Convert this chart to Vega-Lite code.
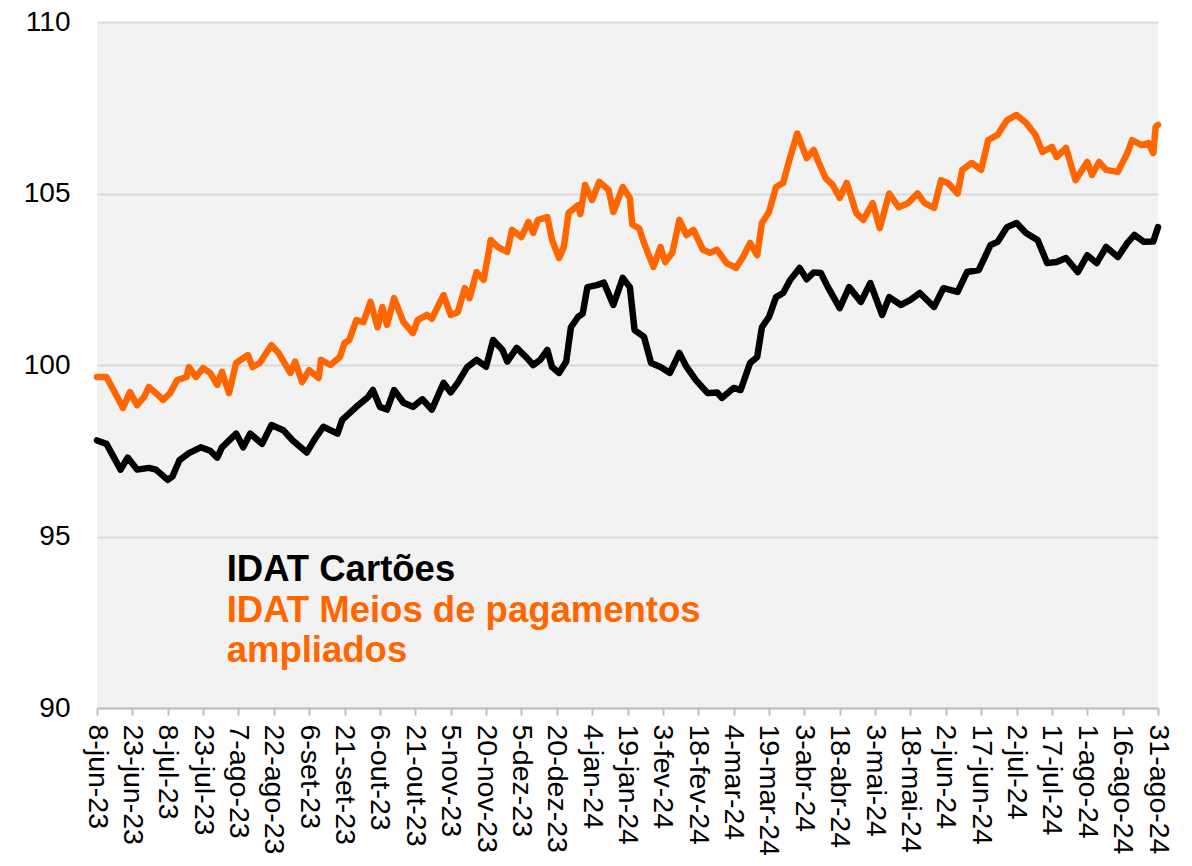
{
"$schema": "https://vega.github.io/schema/vega-lite/v6.json",
"width": 1061, "height": 686,
"autosize": {"type": "none"},
"padding": {"left": 97, "top": 22, "right": 34, "bottom": 158},
"background": "white",
"config": {"view": {"fill": "#f2f2f2", "stroke": null}, "font": "Liberation Sans",
  "axisX": {"labelOverlap": false, "labelFlush": false, "labelBound": false, "labelAngle": 90, "labelFontSize": 28.5, "labelColor": "#000000", "labelFont": "Liberation Sans", "tickColor": "#bfbfbf", "tickSize": 7, "tickWidth": 2, "domainColor": "#bfbfbf", "domainWidth": 2, "grid": false, "labelPadding": 9, "title": null},
  "axisY": {"labelOverlap": false, "labelFontSize": 28, "labelColor": "#000000", "labelFont": "Liberation Sans", "ticks": false, "domain": false, "labelPadding": 27, "gridColor": "#d9d9d9", "gridWidth": 2, "title": null}},
"datasets": {"idat": [
{"date":"2023-06-08","series":"IDAT Cartões","value":97.8},
{"date":"2023-06-12","series":"IDAT Cartões","value":97.7},
{"date":"2023-06-18","series":"IDAT Cartões","value":96.95},
{"date":"2023-06-21","series":"IDAT Cartões","value":97.3},
{"date":"2023-06-25","series":"IDAT Cartões","value":96.95},
{"date":"2023-06-30","series":"IDAT Cartões","value":97.0},
{"date":"2023-07-03","series":"IDAT Cartões","value":96.95},
{"date":"2023-07-08","series":"IDAT Cartões","value":96.65},
{"date":"2023-07-10","series":"IDAT Cartões","value":96.75},
{"date":"2023-07-13","series":"IDAT Cartões","value":97.23},
{"date":"2023-07-17","series":"IDAT Cartões","value":97.43},
{"date":"2023-07-22","series":"IDAT Cartões","value":97.6},
{"date":"2023-07-26","series":"IDAT Cartões","value":97.5},
{"date":"2023-07-29","series":"IDAT Cartões","value":97.3},
{"date":"2023-07-31","series":"IDAT Cartões","value":97.6},
{"date":"2023-08-06","series":"IDAT Cartões","value":98.0},
{"date":"2023-08-09","series":"IDAT Cartões","value":97.6},
{"date":"2023-08-12","series":"IDAT Cartões","value":98.0},
{"date":"2023-08-17","series":"IDAT Cartões","value":97.7},
{"date":"2023-08-21","series":"IDAT Cartões","value":98.25},
{"date":"2023-08-26","series":"IDAT Cartões","value":98.1},
{"date":"2023-08-30","series":"IDAT Cartões","value":97.8},
{"date":"2023-09-05","series":"IDAT Cartões","value":97.45},
{"date":"2023-09-08","series":"IDAT Cartões","value":97.8},
{"date":"2023-09-12","series":"IDAT Cartões","value":98.2},
{"date":"2023-09-18","series":"IDAT Cartões","value":98.0},
{"date":"2023-09-20","series":"IDAT Cartões","value":98.4},
{"date":"2023-09-26","series":"IDAT Cartões","value":98.78},
{"date":"2023-10-01","series":"IDAT Cartões","value":99.07},
{"date":"2023-10-03","series":"IDAT Cartões","value":99.27},
{"date":"2023-10-06","series":"IDAT Cartões","value":98.78},
{"date":"2023-10-09","series":"IDAT Cartões","value":98.7},
{"date":"2023-10-12","series":"IDAT Cartões","value":99.27},
{"date":"2023-10-16","series":"IDAT Cartões","value":98.9},
{"date":"2023-10-20","series":"IDAT Cartões","value":98.78},
{"date":"2023-10-24","series":"IDAT Cartões","value":99.0},
{"date":"2023-10-28","series":"IDAT Cartões","value":98.7},
{"date":"2023-11-02","series":"IDAT Cartões","value":99.48},
{"date":"2023-11-05","series":"IDAT Cartões","value":99.2},
{"date":"2023-11-08","series":"IDAT Cartões","value":99.48},
{"date":"2023-11-12","series":"IDAT Cartões","value":99.94},
{"date":"2023-11-16","series":"IDAT Cartões","value":100.15},
{"date":"2023-11-20","series":"IDAT Cartões","value":99.95},
{"date":"2023-11-23","series":"IDAT Cartões","value":100.73},
{"date":"2023-11-27","series":"IDAT Cartões","value":100.44},
{"date":"2023-11-29","series":"IDAT Cartões","value":100.1},
{"date":"2023-12-03","series":"IDAT Cartões","value":100.5},
{"date":"2023-12-07","series":"IDAT Cartões","value":100.23},
{"date":"2023-12-10","series":"IDAT Cartões","value":100.0},
{"date":"2023-12-13","series":"IDAT Cartões","value":100.15},
{"date":"2023-12-16","series":"IDAT Cartões","value":100.44},
{"date":"2023-12-18","series":"IDAT Cartões","value":99.94},
{"date":"2023-12-21","series":"IDAT Cartões","value":99.77},
{"date":"2023-12-24","series":"IDAT Cartões","value":100.1},
{"date":"2023-12-26","series":"IDAT Cartões","value":101.1},
{"date":"2023-12-29","series":"IDAT Cartões","value":101.4},
{"date":"2023-12-31","series":"IDAT Cartões","value":101.5},
{"date":"2024-01-02","series":"IDAT Cartões","value":102.27},
{"date":"2024-01-06","series":"IDAT Cartões","value":102.33},
{"date":"2024-01-09","series":"IDAT Cartões","value":102.4},
{"date":"2024-01-13","series":"IDAT Cartões","value":101.75},
{"date":"2024-01-17","series":"IDAT Cartões","value":102.54},
{"date":"2024-01-20","series":"IDAT Cartões","value":102.27},
{"date":"2024-01-22","series":"IDAT Cartões","value":101.02},
{"date":"2024-01-26","series":"IDAT Cartões","value":100.82},
{"date":"2024-01-29","series":"IDAT Cartões","value":100.06},
{"date":"2024-02-02","series":"IDAT Cartões","value":99.94},
{"date":"2024-02-06","series":"IDAT Cartões","value":99.77},
{"date":"2024-02-10","series":"IDAT Cartões","value":100.35},
{"date":"2024-02-13","series":"IDAT Cartões","value":99.95},
{"date":"2024-02-17","series":"IDAT Cartões","value":99.56},
{"date":"2024-02-22","series":"IDAT Cartões","value":99.18},
{"date":"2024-02-26","series":"IDAT Cartões","value":99.2},
{"date":"2024-02-28","series":"IDAT Cartões","value":99.04},
{"date":"2024-03-04","series":"IDAT Cartões","value":99.33},
{"date":"2024-03-07","series":"IDAT Cartões","value":99.27},
{"date":"2024-03-11","series":"IDAT Cartões","value":100.06},
{"date":"2024-03-14","series":"IDAT Cartões","value":100.23},
{"date":"2024-03-16","series":"IDAT Cartões","value":101.1},
{"date":"2024-03-19","series":"IDAT Cartões","value":101.4},
{"date":"2024-03-22","series":"IDAT Cartões","value":101.98},
{"date":"2024-03-25","series":"IDAT Cartões","value":102.1},
{"date":"2024-03-28","series":"IDAT Cartões","value":102.48},
{"date":"2024-04-01","series":"IDAT Cartões","value":102.83},
{"date":"2024-04-04","series":"IDAT Cartões","value":102.5},
{"date":"2024-04-07","series":"IDAT Cartões","value":102.7},
{"date":"2024-04-10","series":"IDAT Cartões","value":102.68},
{"date":"2024-04-13","series":"IDAT Cartões","value":102.27},
{"date":"2024-04-18","series":"IDAT Cartões","value":101.66},
{"date":"2024-04-22","series":"IDAT Cartões","value":102.27},
{"date":"2024-04-27","series":"IDAT Cartões","value":101.84},
{"date":"2024-05-01","series":"IDAT Cartões","value":102.39},
{"date":"2024-05-06","series":"IDAT Cartões","value":101.46},
{"date":"2024-05-09","series":"IDAT Cartões","value":101.98},
{"date":"2024-05-14","series":"IDAT Cartões","value":101.75},
{"date":"2024-05-18","series":"IDAT Cartões","value":101.9},
{"date":"2024-05-22","series":"IDAT Cartões","value":102.1},
{"date":"2024-05-28","series":"IDAT Cartões","value":101.69},
{"date":"2024-06-01","series":"IDAT Cartões","value":102.24},
{"date":"2024-06-07","series":"IDAT Cartões","value":102.13},
{"date":"2024-06-11","series":"IDAT Cartões","value":102.71},
{"date":"2024-06-16","series":"IDAT Cartões","value":102.77},
{"date":"2024-06-21","series":"IDAT Cartões","value":103.5},
{"date":"2024-06-24","series":"IDAT Cartões","value":103.59},
{"date":"2024-06-28","series":"IDAT Cartões","value":104.02},
{"date":"2024-07-02","series":"IDAT Cartões","value":104.14},
{"date":"2024-07-06","series":"IDAT Cartões","value":103.85},
{"date":"2024-07-11","series":"IDAT Cartões","value":103.64},
{"date":"2024-07-15","series":"IDAT Cartões","value":102.97},
{"date":"2024-07-19","series":"IDAT Cartões","value":103.0},
{"date":"2024-07-23","series":"IDAT Cartões","value":103.12},
{"date":"2024-07-28","series":"IDAT Cartões","value":102.71},
{"date":"2024-08-01","series":"IDAT Cartões","value":103.2},
{"date":"2024-08-05","series":"IDAT Cartões","value":102.97},
{"date":"2024-08-09","series":"IDAT Cartões","value":103.44},
{"date":"2024-08-14","series":"IDAT Cartões","value":103.15},
{"date":"2024-08-18","series":"IDAT Cartões","value":103.56},
{"date":"2024-08-21","series":"IDAT Cartões","value":103.79},
{"date":"2024-08-25","series":"IDAT Cartões","value":103.59},
{"date":"2024-08-29","series":"IDAT Cartões","value":103.6},
{"date":"2024-08-31","series":"IDAT Cartões","value":104.02},
{"date":"2023-06-08","series":"IDAT Meios de pagamentos ampliados","value":99.65},
{"date":"2023-06-12","series":"IDAT Meios de pagamentos ampliados","value":99.65},
{"date":"2023-06-15","series":"IDAT Meios de pagamentos ampliados","value":99.27},
{"date":"2023-06-19","series":"IDAT Meios de pagamentos ampliados","value":98.75},
{"date":"2023-06-22","series":"IDAT Meios de pagamentos ampliados","value":99.21},
{"date":"2023-06-25","series":"IDAT Meios de pagamentos ampliados","value":98.83},
{"date":"2023-06-28","series":"IDAT Meios de pagamentos ampliados","value":99.07},
{"date":"2023-06-30","series":"IDAT Meios de pagamentos ampliados","value":99.36},
{"date":"2023-07-03","series":"IDAT Meios de pagamentos ampliados","value":99.18},
{"date":"2023-07-06","series":"IDAT Meios de pagamentos ampliados","value":98.98},
{"date":"2023-07-09","series":"IDAT Meios de pagamentos ampliados","value":99.18},
{"date":"2023-07-12","series":"IDAT Meios de pagamentos ampliados","value":99.56},
{"date":"2023-07-16","series":"IDAT Meios de pagamentos ampliados","value":99.65},
{"date":"2023-07-17","series":"IDAT Meios de pagamentos ampliados","value":99.94},
{"date":"2023-07-20","series":"IDAT Meios de pagamentos ampliados","value":99.65},
{"date":"2023-07-23","series":"IDAT Meios de pagamentos ampliados","value":99.91},
{"date":"2023-07-26","series":"IDAT Meios de pagamentos ampliados","value":99.77},
{"date":"2023-07-29","series":"IDAT Meios de pagamentos ampliados","value":99.42},
{"date":"2023-07-31","series":"IDAT Meios de pagamentos ampliados","value":99.8},
{"date":"2023-08-03","series":"IDAT Meios de pagamentos ampliados","value":99.18},
{"date":"2023-08-06","series":"IDAT Meios de pagamentos ampliados","value":100.06},
{"date":"2023-08-11","series":"IDAT Meios de pagamentos ampliados","value":100.29},
{"date":"2023-08-13","series":"IDAT Meios de pagamentos ampliados","value":99.94},
{"date":"2023-08-16","series":"IDAT Meios de pagamentos ampliados","value":100.06},
{"date":"2023-08-21","series":"IDAT Meios de pagamentos ampliados","value":100.58},
{"date":"2023-08-24","series":"IDAT Meios de pagamentos ampliados","value":100.35},
{"date":"2023-08-29","series":"IDAT Meios de pagamentos ampliados","value":99.77},
{"date":"2023-08-31","series":"IDAT Meios de pagamentos ampliados","value":100.1},
{"date":"2023-09-03","series":"IDAT Meios de pagamentos ampliados","value":99.5},
{"date":"2023-09-06","series":"IDAT Meios de pagamentos ampliados","value":99.85},
{"date":"2023-09-10","series":"IDAT Meios de pagamentos ampliados","value":99.62},
{"date":"2023-09-11","series":"IDAT Meios de pagamentos ampliados","value":100.15},
{"date":"2023-09-15","series":"IDAT Meios de pagamentos ampliados","value":100.0},
{"date":"2023-09-19","series":"IDAT Meios de pagamentos ampliados","value":100.23},
{"date":"2023-09-21","series":"IDAT Meios de pagamentos ampliados","value":100.64},
{"date":"2023-09-23","series":"IDAT Meios de pagamentos ampliados","value":100.73},
{"date":"2023-09-26","series":"IDAT Meios de pagamentos ampliados","value":101.31},
{"date":"2023-09-29","series":"IDAT Meios de pagamentos ampliados","value":101.25},
{"date":"2023-10-02","series":"IDAT Meios de pagamentos ampliados","value":101.84},
{"date":"2023-10-05","series":"IDAT Meios de pagamentos ampliados","value":101.1},
{"date":"2023-10-07","series":"IDAT Meios de pagamentos ampliados","value":101.69},
{"date":"2023-10-09","series":"IDAT Meios de pagamentos ampliados","value":101.17},
{"date":"2023-10-12","series":"IDAT Meios de pagamentos ampliados","value":101.95},
{"date":"2023-10-16","series":"IDAT Meios de pagamentos ampliados","value":101.25},
{"date":"2023-10-20","series":"IDAT Meios de pagamentos ampliados","value":100.93},
{"date":"2023-10-22","series":"IDAT Meios de pagamentos ampliados","value":101.31},
{"date":"2023-10-26","series":"IDAT Meios de pagamentos ampliados","value":101.46},
{"date":"2023-10-28","series":"IDAT Meios de pagamentos ampliados","value":101.35},
{"date":"2023-11-02","series":"IDAT Meios de pagamentos ampliados","value":102.04},
{"date":"2023-11-05","series":"IDAT Meios de pagamentos ampliados","value":101.46},
{"date":"2023-11-08","series":"IDAT Meios de pagamentos ampliados","value":101.54},
{"date":"2023-11-11","series":"IDAT Meios de pagamentos ampliados","value":102.24},
{"date":"2023-11-13","series":"IDAT Meios de pagamentos ampliados","value":101.95},
{"date":"2023-11-16","series":"IDAT Meios de pagamentos ampliados","value":102.71},
{"date":"2023-11-19","series":"IDAT Meios de pagamentos ampliados","value":102.48},
{"date":"2023-11-22","series":"IDAT Meios de pagamentos ampliados","value":103.64},
{"date":"2023-11-25","series":"IDAT Meios de pagamentos ampliados","value":103.44},
{"date":"2023-11-29","series":"IDAT Meios de pagamentos ampliados","value":103.3},
{"date":"2023-12-01","series":"IDAT Meios de pagamentos ampliados","value":103.94},
{"date":"2023-12-05","series":"IDAT Meios de pagamentos ampliados","value":103.73},
{"date":"2023-12-08","series":"IDAT Meios de pagamentos ampliados","value":104.17},
{"date":"2023-12-10","series":"IDAT Meios de pagamentos ampliados","value":103.85},
{"date":"2023-12-12","series":"IDAT Meios de pagamentos ampliados","value":104.23},
{"date":"2023-12-16","series":"IDAT Meios de pagamentos ampliados","value":104.31},
{"date":"2023-12-18","series":"IDAT Meios de pagamentos ampliados","value":103.64},
{"date":"2023-12-21","series":"IDAT Meios de pagamentos ampliados","value":103.12},
{"date":"2023-12-23","series":"IDAT Meios de pagamentos ampliados","value":103.44},
{"date":"2023-12-25","series":"IDAT Meios de pagamentos ampliados","value":104.43},
{"date":"2023-12-29","series":"IDAT Meios de pagamentos ampliados","value":104.66},
{"date":"2023-12-30","series":"IDAT Meios de pagamentos ampliados","value":104.4},
{"date":"2024-01-01","series":"IDAT Meios de pagamentos ampliados","value":105.25},
{"date":"2024-01-04","series":"IDAT Meios de pagamentos ampliados","value":104.81},
{"date":"2024-01-07","series":"IDAT Meios de pagamentos ampliados","value":105.34},
{"date":"2024-01-11","series":"IDAT Meios de pagamentos ampliados","value":105.1},
{"date":"2024-01-13","series":"IDAT Meios de pagamentos ampliados","value":104.46},
{"date":"2024-01-17","series":"IDAT Meios de pagamentos ampliados","value":105.19},
{"date":"2024-01-20","series":"IDAT Meios de pagamentos ampliados","value":104.87},
{"date":"2024-01-21","series":"IDAT Meios de pagamentos ampliados","value":104.1},
{"date":"2024-01-24","series":"IDAT Meios de pagamentos ampliados","value":103.98},
{"date":"2024-01-26","series":"IDAT Meios de pagamentos ampliados","value":103.56},
{"date":"2024-01-30","series":"IDAT Meios de pagamentos ampliados","value":102.86},
{"date":"2024-02-02","series":"IDAT Meios de pagamentos ampliados","value":103.44},
{"date":"2024-02-04","series":"IDAT Meios de pagamentos ampliados","value":103.0},
{"date":"2024-02-07","series":"IDAT Meios de pagamentos ampliados","value":103.27},
{"date":"2024-02-10","series":"IDAT Meios de pagamentos ampliados","value":104.23},
{"date":"2024-02-13","series":"IDAT Meios de pagamentos ampliados","value":103.79},
{"date":"2024-02-16","series":"IDAT Meios de pagamentos ampliados","value":103.94},
{"date":"2024-02-20","series":"IDAT Meios de pagamentos ampliados","value":103.36},
{"date":"2024-02-23","series":"IDAT Meios de pagamentos ampliados","value":103.27},
{"date":"2024-02-26","series":"IDAT Meios de pagamentos ampliados","value":103.36},
{"date":"2024-03-01","series":"IDAT Meios de pagamentos ampliados","value":102.97},
{"date":"2024-03-05","series":"IDAT Meios de pagamentos ampliados","value":102.83},
{"date":"2024-03-08","series":"IDAT Meios de pagamentos ampliados","value":103.15},
{"date":"2024-03-11","series":"IDAT Meios de pagamentos ampliados","value":103.56},
{"date":"2024-03-14","series":"IDAT Meios de pagamentos ampliados","value":103.2},
{"date":"2024-03-16","series":"IDAT Meios de pagamentos ampliados","value":104.14},
{"date":"2024-03-19","series":"IDAT Meios de pagamentos ampliados","value":104.46},
{"date":"2024-03-22","series":"IDAT Meios de pagamentos ampliados","value":105.19},
{"date":"2024-03-25","series":"IDAT Meios de pagamentos ampliados","value":105.31},
{"date":"2024-03-28","series":"IDAT Meios de pagamentos ampliados","value":106.06},
{"date":"2024-03-31","series":"IDAT Meios de pagamentos ampliados","value":106.75},
{"date":"2024-04-04","series":"IDAT Meios de pagamentos ampliados","value":106.03},
{"date":"2024-04-07","series":"IDAT Meios de pagamentos ampliados","value":106.27},
{"date":"2024-04-09","series":"IDAT Meios de pagamentos ampliados","value":105.92},
{"date":"2024-04-12","series":"IDAT Meios de pagamentos ampliados","value":105.45},
{"date":"2024-04-15","series":"IDAT Meios de pagamentos ampliados","value":105.25},
{"date":"2024-04-18","series":"IDAT Meios de pagamentos ampliados","value":104.87},
{"date":"2024-04-21","series":"IDAT Meios de pagamentos ampliados","value":105.31},
{"date":"2024-04-25","series":"IDAT Meios de pagamentos ampliados","value":104.43},
{"date":"2024-04-28","series":"IDAT Meios de pagamentos ampliados","value":104.23},
{"date":"2024-05-02","series":"IDAT Meios de pagamentos ampliados","value":104.72},
{"date":"2024-05-05","series":"IDAT Meios de pagamentos ampliados","value":103.99},
{"date":"2024-05-09","series":"IDAT Meios de pagamentos ampliados","value":105.0},
{"date":"2024-05-13","series":"IDAT Meios de pagamentos ampliados","value":104.6},
{"date":"2024-05-17","series":"IDAT Meios de pagamentos ampliados","value":104.72},
{"date":"2024-05-21","series":"IDAT Meios de pagamentos ampliados","value":105.0},
{"date":"2024-05-24","series":"IDAT Meios de pagamentos ampliados","value":104.72},
{"date":"2024-05-28","series":"IDAT Meios de pagamentos ampliados","value":104.58},
{"date":"2024-05-31","series":"IDAT Meios de pagamentos ampliados","value":105.39},
{"date":"2024-06-03","series":"IDAT Meios de pagamentos ampliados","value":105.3},
{"date":"2024-06-07","series":"IDAT Meios de pagamentos ampliados","value":105.0},
{"date":"2024-06-09","series":"IDAT Meios de pagamentos ampliados","value":105.69},
{"date":"2024-06-13","series":"IDAT Meios de pagamentos ampliados","value":105.89},
{"date":"2024-06-17","series":"IDAT Meios de pagamentos ampliados","value":105.69},
{"date":"2024-06-20","series":"IDAT Meios de pagamentos ampliados","value":106.56},
{"date":"2024-06-24","series":"IDAT Meios de pagamentos ampliados","value":106.71},
{"date":"2024-06-28","series":"IDAT Meios de pagamentos ampliados","value":107.14},
{"date":"2024-07-02","series":"IDAT Meios de pagamentos ampliados","value":107.29},
{"date":"2024-07-06","series":"IDAT Meios de pagamentos ampliados","value":107.06},
{"date":"2024-07-10","series":"IDAT Meios de pagamentos ampliados","value":106.71},
{"date":"2024-07-13","series":"IDAT Meios de pagamentos ampliados","value":106.21},
{"date":"2024-07-17","series":"IDAT Meios de pagamentos ampliados","value":106.36},
{"date":"2024-07-19","series":"IDAT Meios de pagamentos ampliados","value":106.06},
{"date":"2024-07-23","series":"IDAT Meios de pagamentos ampliados","value":106.33},
{"date":"2024-07-27","series":"IDAT Meios de pagamentos ampliados","value":105.39},
{"date":"2024-08-01","series":"IDAT Meios de pagamentos ampliados","value":105.92},
{"date":"2024-08-03","series":"IDAT Meios de pagamentos ampliados","value":105.54},
{"date":"2024-08-06","series":"IDAT Meios de pagamentos ampliados","value":105.92},
{"date":"2024-08-09","series":"IDAT Meios de pagamentos ampliados","value":105.69},
{"date":"2024-08-14","series":"IDAT Meios de pagamentos ampliados","value":105.63},
{"date":"2024-08-18","series":"IDAT Meios de pagamentos ampliados","value":106.18},
{"date":"2024-08-20","series":"IDAT Meios de pagamentos ampliados","value":106.56},
{"date":"2024-08-24","series":"IDAT Meios de pagamentos ampliados","value":106.41},
{"date":"2024-08-27","series":"IDAT Meios de pagamentos ampliados","value":106.47},
{"date":"2024-08-29","series":"IDAT Meios de pagamentos ampliados","value":106.18},
{"date":"2024-08-30","series":"IDAT Meios de pagamentos ampliados","value":106.94},
{"date":"2024-08-31","series":"IDAT Meios de pagamentos ampliados","value":107.0}
],
"labels": [{"series": "IDAT Cartões"}]},
"layer": [
{
"data": {"name": "idat"},
"mark": {"type": "line", "strokeWidth": 6.5, "strokeJoin": "round", "strokeCap": "round"},
"encoding": {
  "x": {"field": "date", "type": "temporal",
    "scale": {"type": "utc", "nice": false, "domain": [{"year":2023,"month":6,"date":8,"utc":true},{"year":2024,"month":8,"date":31,"utc":true}]},
    "axis": {"title": null, "labelOverlap": false, "tickCount": 100,
      "values": [
        {"year":2023,"month":6,"date":8,"utc":true},{"year":2023,"month":6,"date":23,"utc":true},
        {"year":2023,"month":7,"date":8,"utc":true},{"year":2023,"month":7,"date":23,"utc":true},
        {"year":2023,"month":8,"date":7,"utc":true},{"year":2023,"month":8,"date":22,"utc":true},
        {"year":2023,"month":9,"date":6,"utc":true},{"year":2023,"month":9,"date":21,"utc":true},
        {"year":2023,"month":10,"date":6,"utc":true},{"year":2023,"month":10,"date":21,"utc":true},
        {"year":2023,"month":11,"date":5,"utc":true},{"year":2023,"month":11,"date":20,"utc":true},
        {"year":2023,"month":12,"date":5,"utc":true},{"year":2023,"month":12,"date":20,"utc":true},
        {"year":2024,"month":1,"date":4,"utc":true},{"year":2024,"month":1,"date":19,"utc":true},
        {"year":2024,"month":2,"date":3,"utc":true},{"year":2024,"month":2,"date":18,"utc":true},
        {"year":2024,"month":3,"date":4,"utc":true},{"year":2024,"month":3,"date":19,"utc":true},
        {"year":2024,"month":4,"date":3,"utc":true},{"year":2024,"month":4,"date":18,"utc":true},
        {"year":2024,"month":5,"date":3,"utc":true},{"year":2024,"month":5,"date":18,"utc":true},
        {"year":2024,"month":6,"date":2,"utc":true},{"year":2024,"month":6,"date":17,"utc":true},
        {"year":2024,"month":7,"date":2,"utc":true},{"year":2024,"month":7,"date":17,"utc":true},
        {"year":2024,"month":8,"date":1,"utc":true},{"year":2024,"month":8,"date":16,"utc":true},
        {"year":2024,"month":8,"date":31,"utc":true}],
      "labelExpr": "utcdate(datum.value) + '-' + ['jan','fev','mar','abr','mai','jun','jul','ago','set','out','nov','dez'][utcmonth(datum.value)] + '-' + utcFormat(datum.value, '%y')"}},
  "y": {"field": "value", "type": "quantitative",
    "scale": {"domain": [90, 110], "nice": false, "zero": false},
    "axis": {"title": null, "format": "d", "values": [90, 95, 100, 105, 110]}},
  "color": {"field": "series", "type": "nominal",
    "scale": {"domain": ["IDAT Cartões", "IDAT Meios de pagamentos ampliados"], "range": ["#000000", "#ff6600"]},
    "legend": null}
}
},
{
"data": {"name": "labels"},
"mark": {"type": "text", "align": "left", "baseline": "alphabetic", "font": "Liberation Sans", "fontSize": 36.5, "fontWeight": "bold", "text": "IDAT Cartões"},
"encoding": {
  "x": {"datum": {"year":2023,"month":8,"date":2,"utc":true}, "type": "temporal"},
  "y": {"datum": 93.7, "type": "quantitative"},
  "color": {"datum": "IDAT Cartões", "type": "nominal"}
}
},
{
"data": {"name": "labels"},
"mark": {"type": "text", "align": "left", "baseline": "alphabetic", "font": "Liberation Sans", "fontSize": 36.5, "fontWeight": "bold", "lineHeight": 40, "text": ["IDAT Meios de pagamentos", "ampliados"]},
"encoding": {
  "x": {"datum": {"year":2023,"month":8,"date":2,"utc":true}, "type": "temporal"},
  "y": {"datum": 92.5, "type": "quantitative"},
  "color": {"datum": "IDAT Meios de pagamentos ampliados", "type": "nominal"}
}
}
]
}
